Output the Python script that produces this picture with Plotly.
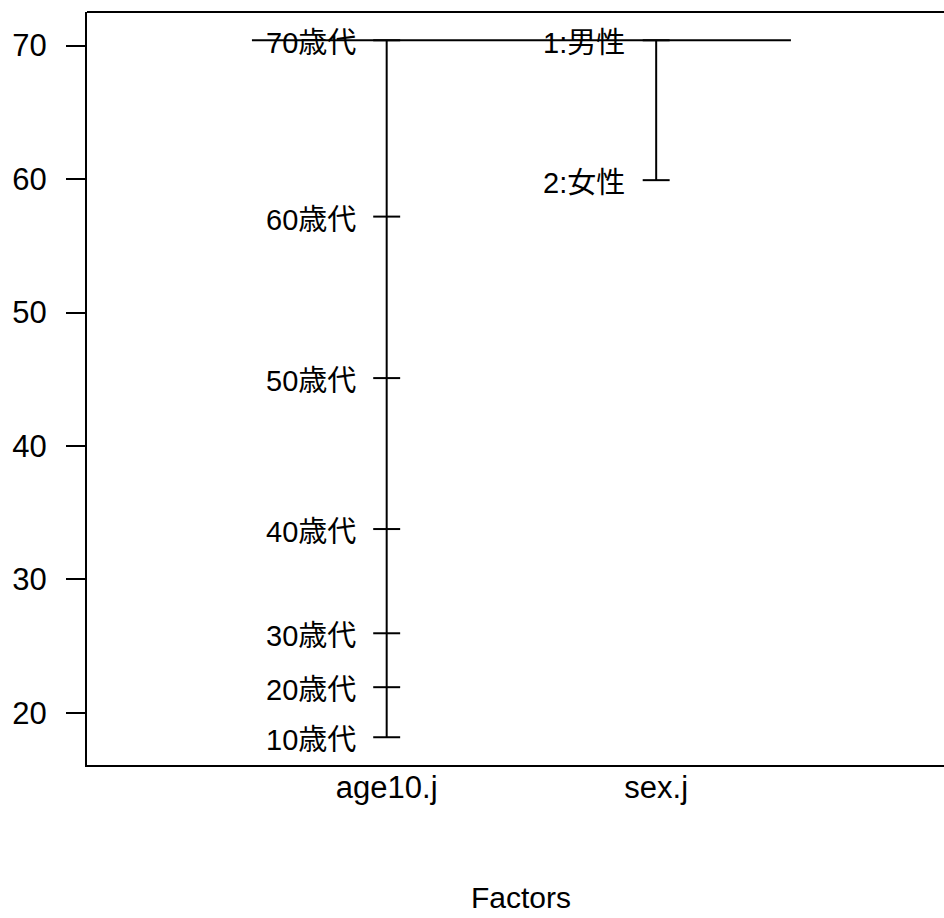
import plotly.graph_objects as go

# Factor names and level means (design plot of mean response by factor level)
factors = ["age10.j", "sex.j"]
age_levels = ["10歳代", "20歳代", "30歳代", "40歳代", "50歳代", "60歳代", "70歳代"]
age_means = [18.18, 21.93, 25.97, 33.78, 45.09, 57.19, 70.40]
sex_levels = ["1:男性", "2:女性"]
sex_means = [70.40, 59.92]
grand_mean = 70.40
y_ticks = [20, 30, 40, 50, 60, 70]

LATIN = "Liberation Sans, Arial, sans-serif"
MIXED = "Liberation Sans, Noto Sans CJK JP, sans-serif"
LW = 2
TICK_HALF = 0.05      # half-width of the level tick marks (x units)
LABEL_GAP = 0.107     # gap between factor line and level labels (x units)

fig = go.Figure()

groups = [(1, age_levels, age_means), (2, sex_levels, sex_means)]

for xpos, levels, means in groups:
    # vertical span over the level means
    fig.add_trace(go.Scatter(
        x=[xpos, xpos], y=[min(means), max(means)], mode="lines",
        line=dict(color="black", width=LW), hoverinfo="skip", showlegend=False))
    # short horizontal tick at each level mean
    xs, ys = [], []
    for m in means:
        xs += [xpos - TICK_HALF, xpos + TICK_HALF, None]
        ys += [m, m, None]
    fig.add_trace(go.Scatter(
        x=xs, y=ys, mode="lines", line=dict(color="black", width=LW),
        hoverinfo="skip", showlegend=False))
    # level labels to the left
    for lab, m in zip(levels, means):
        fig.add_annotation(
            x=xpos - LABEL_GAP, y=m, xref="x", yref="y", text=lab,
            showarrow=False, xanchor="right", yanchor="middle",
            font=dict(family=MIXED, size=29, color="black"), yshift=-3)

# grand mean line across all factors
fig.add_trace(go.Scatter(
    x=[0.5, len(factors) + 0.5], y=[grand_mean, grand_mean], mode="lines",
    line=dict(color="black", width=LW), hoverinfo="skip", showlegend=False))

# x-axis title
fig.add_annotation(
    x=(1 + len(factors)) / 2, y=-0.2005, xref="x", yref="paper", text="Factors",
    showarrow=False, xanchor="center", yanchor="bottom",
    font=dict(family=LATIN, size=30, color="black"))

# top border of the plot box
fig.add_shape(type="line", xref="paper", yref="paper", x0=0, x1=1.05, y0=1, y1=1,
              line=dict(color="black", width=LW))

fig.update_layout(
    width=944, height=918, autosize=False,
    margin=dict(l=87, r=0, t=12, b=153),
    paper_bgcolor="white", plot_bgcolor="white",
    showlegend=False,
    xaxis=dict(
        range=[-0.112, 3.068], tickvals=[1, 2], ticktext=factors,
        ticks="", showline=True, linecolor="black", linewidth=LW,
        showgrid=False, zeroline=False, fixedrange=True,
        ticklabelstandoff=-6,
        tickfont=dict(family=LATIN, size=31, color="black"),
    ),
    yaxis=dict(
        range=[16.10, 72.52], tickvals=y_ticks,
        ticks="outside", ticklen=19, tickwidth=LW, tickcolor="black",
        showline=True, linecolor="black", linewidth=LW,
        showgrid=False, zeroline=False, fixedrange=True,
        ticklabelstandoff=13,
        tickfont=dict(family=LATIN, size=31, color="black"),
    ),
)

fig.write_html("out.html")
